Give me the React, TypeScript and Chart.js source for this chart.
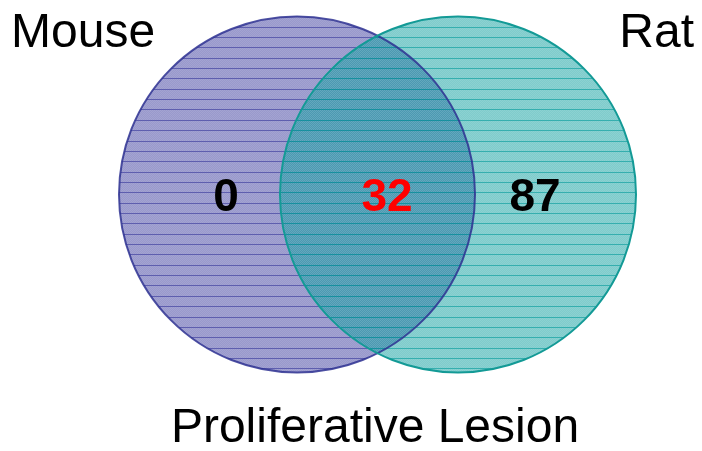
import React, { useEffect, useRef } from "react";
import { Chart, registerables } from "chart.js";

Chart.register(...registerables);

// ---- data ----
const setNames = ["Mouse", "Rat"];
const setCenters = [-0.5, 0.5]; // x centre of each circle (data units)
const setRadius = 1.1056; // circle radius (data units)
const regionLabels = ["0", "32", "87"]; // mouse only, both, rat only
const regionX = [-0.941, 0.059, 0.978];
const titleText = "Proliferative Lesion";

const fills = ["rgba(51,51,153,0.5)", "rgba(0,153,153,0.5)"];
const stripes = ["rgba(51,51,153,0.6)", "rgba(0,153,153,0.6)"];
const borders = ["#2e3192", "#139a96"];
const regionColors = ["#000000", "#ff0000", "#000000"];

const FONT = '"Liberation Sans", Arial, Helvetica, sans-serif';

const vennPlugin = {
  id: "venn",
  afterDatasetsDraw(chart: any) {
    const { ctx } = chart;
    const xs = chart.scales.x;
    const ys = chart.scales.y;
    const rPx = xs.getPixelForValue(setRadius) - xs.getPixelForValue(0);
    const cy = ys.getPixelForValue(0);

    // checker texture
    const pc = document.createElement("canvas");
    pc.width = 2;
    pc.height = 2;
    const pctx = pc.getContext("2d")!;
    pctx.fillStyle = "rgba(255,255,255,0.10)";
    pctx.fillRect(0, 0, 1, 1);
    pctx.fillRect(1, 1, 1, 1);
    const checker = ctx.createPattern(pc, "repeat");

    setCenters.forEach((cxv, i) => {
      const cx = xs.getPixelForValue(cxv);
      ctx.save();
      ctx.beginPath();
      ctx.arc(cx, cy, rPx, 0, Math.PI * 2);
      ctx.fillStyle = fills[i];
      ctx.fill();
      ctx.clip();
      if (checker) {
        ctx.fillStyle = checker;
        ctx.fillRect(cx - rPx, cy - rPx, rPx * 2, rPx * 2);
      }
      ctx.strokeStyle = stripes[i];
      ctx.lineWidth = 1;
      const step = 10.35;
      const start = 26.7 - step * 3;
      for (let y = start; y < cy + rPx + step; y += step) {
        const yy = Math.round(y) + 0.5;
        ctx.beginPath();
        ctx.moveTo(cx - rPx - 2, yy);
        ctx.lineTo(cx + rPx + 2, yy);
        ctx.stroke();
      }
      ctx.restore();
    });

    setCenters.forEach((cxv, i) => {
      const cx = xs.getPixelForValue(cxv);
      ctx.save();
      ctx.beginPath();
      ctx.arc(cx, cy, rPx, 0, Math.PI * 2);
      ctx.strokeStyle = borders[i];
      ctx.globalAlpha = i === 0 ? 0.85 : 1;
      ctx.lineWidth = 2;
      ctx.stroke();
      ctx.restore();
    });

    // region counts
    ctx.save();
    ctx.font = `bold 46px ${FONT}`;
    ctx.textAlign = "center";
    ctx.textBaseline = "alphabetic";
    regionLabels.forEach((t, i) => {
      ctx.fillStyle = regionColors[i];
      ctx.fillText(t, xs.getPixelForValue(regionX[i]), cy + 16);
    });
    ctx.restore();

    // set names + title
    const area = chart.chartArea;
    ctx.save();
    ctx.font = `48px ${FONT}`;
    ctx.fillStyle = "#000";
    ctx.textBaseline = "alphabetic";
    ctx.textAlign = "left";
    ctx.fillText(setNames[0], area.left + 11, 47);
    ctx.textAlign = "right";
    ctx.fillText(setNames[1], area.right - 8, 47);
    ctx.textAlign = "center";
    ctx.fillText(titleText, xs.getPixelForValue(0) - 2.5, 442);
    ctx.restore();
  },
};

export default function App() {
  const ref = useRef<HTMLCanvasElement | null>(null);
  useEffect(() => {
    document.body.style.margin = "0";
    const canvas = ref.current!;
    const chart = new Chart(canvas, {
      type: "scatter",
      data: {
        datasets: [
          {
            label: "centres",
            data: setCenters.map((x) => ({ x, y: 0 })),
            pointRadius: 0,
            pointHoverRadius: 0,
          },
        ],
      },
      options: {
        animation: false,
        responsive: false,
        devicePixelRatio: 1,
        layout: { padding: 0 },
        plugins: {
          legend: { display: false },
          tooltip: { enabled: false },
          title: { display: false },
        },
        scales: {
          x: { type: "linear", display: false, min: -2.3447, max: 2.0155 },
          y: { type: "linear", display: false, min: -1.5932, max: 1.2081 },
        },
      },
      plugins: [vennPlugin],
    });
    return () => chart.destroy();
  }, []);
  return (
    <canvas
      ref={ref}
      width={702}
      height={451}
      style={{ display: "block", width: 702, height: 451 }}
    />
  );
}
